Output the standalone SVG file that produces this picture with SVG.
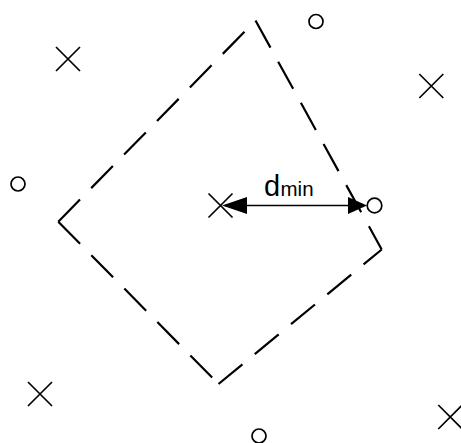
<svg xmlns="http://www.w3.org/2000/svg" width="461" height="443" viewBox="0 0 461 443">
<style>
.edge{stroke:#000;stroke-width:2.2;fill:none;stroke-dasharray:31 16}
.mk{stroke:#000;stroke-width:1.7;fill:none}
.ln{stroke:#000;stroke-width:1.6;fill:none}
.head{fill:#000;stroke:none}
.lbl{font-family:"Liberation Sans",Arial,sans-serif;fill:#000}
</style>
<defs>
<path id="xm" d="M-12,-12L12,12M-12,12L12,-12"/>
</defs>
<rect width="461" height="443" fill="#fff"/>
<g id="region">
<line class="edge" x1="58.3" y1="221.7" x2="255.5" y2="20.5"/>
<line class="edge" x1="255.5" y1="20.5" x2="381.7" y2="249.5"/>
<line class="edge" x1="58.3" y1="221.7" x2="218.5" y2="384"/>
<line class="edge" x1="218.5" y1="384" x2="381.7" y2="249.5"/>
</g>
<g id="crosses">
<use href="#xm" class="mk" x="68" y="59"/>
<use href="#xm" class="mk" x="431.3" y="86"/>
<use href="#xm" class="mk" x="220.5" y="205.5"/>
<use href="#xm" class="mk" x="40" y="394"/>
<use href="#xm" class="mk" x="450.3" y="417"/>
</g>
<g id="circles">
<circle class="mk" cx="316" cy="21.5" r="7"/>
<circle class="mk" cx="18" cy="184" r="7"/>
<circle class="mk" cx="374.5" cy="205.5" r="7.3"/>
<circle class="mk" cx="259" cy="436" r="7"/>
</g>
<g id="connectors">
<line class="ln" x1="225" y1="205.5" x2="362" y2="205.5"/>
<polygon class="head" points="222,205.5 247,197 247,214"/>
<polygon class="head" points="367,205.5 348,197 348,214"/>
</g>
<g id="label">
<text class="lbl" x="264" y="196" font-size="29">d</text>
<text class="lbl" x="280.5" y="196" font-size="20.5">min</text>
</g>
</svg>
